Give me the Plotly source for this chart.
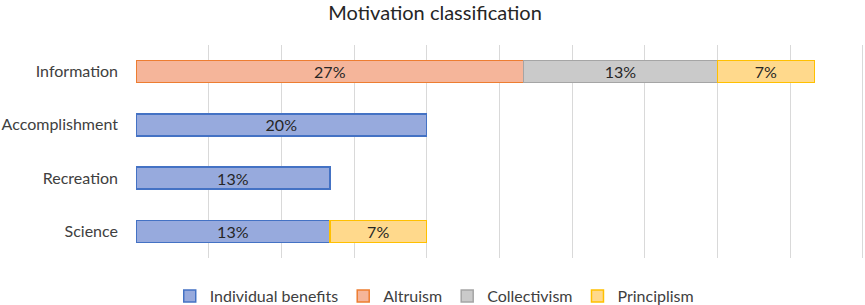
import plotly.graph_objects as go

categories = ["Information", "Accomplishment", "Recreation", "Science"]
individual_benefits = [None, 0.2000, 0.1333, 0.1333]
altruism = [0.2667, None, None, None]
collectivism = [0.1333, None, None, None]
principlism = [0.0667, None, None, 0.0667]

series = [
    ("Individual benefits", individual_benefits, "#97AADD", "#4472C4"),
    ("Altruism", altruism, "#F5B59A", "#ED7D31"),
    ("Collectivism", collectivism, "#CACACA", "#A5A5A5"),
    ("Principlism", principlism, "#FFD98C", "#FFC000"),
]

FONT = "Lato, Open Sans, sans-serif"

fig = go.Figure()
for name, vals, fill, line in series:
    fig.add_trace(go.Bar(
        y=categories, x=vals, name=name, orientation="h",
        marker=dict(color=fill, line=dict(color=line, width=1.5)),
        texttemplate="%{x:.0%}", textposition="inside", insidetextanchor="middle",
        constraintext="none",
        textfont=dict(family=FONT, size=16, color="#262626"),
    ))

fig.update_layout(
    width=865, height=305,
    barmode="stack", bargap=0.585,
    margin=dict(l=136, r=1, t=45, b=47, autoexpand=False),
    paper_bgcolor="white", plot_bgcolor="white",
    font=dict(family=FONT, color="#595959"),
    title=dict(text="Motivation classification", x=0.503, xref="container", xanchor="center",
               y=1 - 13 / 305, yref="container", yanchor="middle",
               font=dict(size=20, color="#262626", family=FONT)),
    legend=dict(orientation="h", x=0.502, xref="container", xanchor="center",
                y=1 - 296 / 305, yref="container", yanchor="middle",
                font=dict(size=16, color="#404040"), traceorder="normal",
                itemwidth=30),
)
fig.update_xaxes(range=[0, 0.5008], dtick=0.05, showgrid=True, gridcolor="#D9D9D9",
                 gridwidth=1, showticklabels=False, zeroline=False, showline=False,
                 automargin=False)
fig.update_yaxes(autorange="reversed", showgrid=False, ticks="", ticklabelstandoff=17,
                 tickfont=dict(size=16, color="#404040"), showline=False, automargin=False)

fig.write_html("out.html", config={"displayModeBar": False},
               post_script="document.body.style.margin='0px';document.body.style.overflow='hidden';")
